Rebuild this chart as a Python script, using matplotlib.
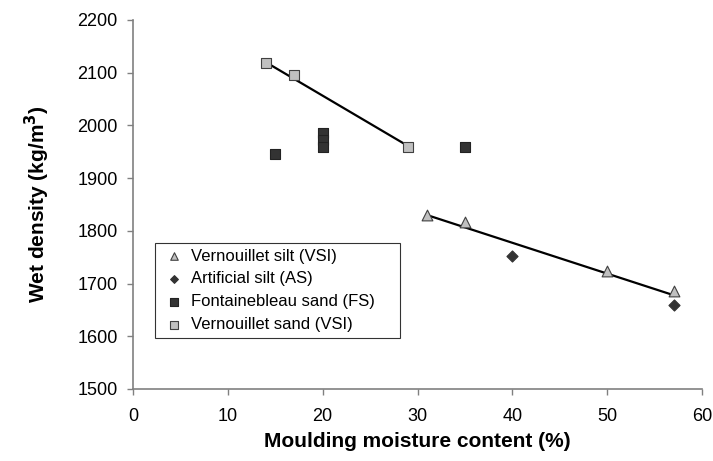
import numpy as np
import matplotlib
matplotlib.use('Agg')
import matplotlib.pyplot as plt

plt.rcParams['font.family'] = ['Liberation Sans', 'DejaVu Sans']

# ── Data ──
vsi_x = [31, 35, 50, 57]
vsi_y = [1830, 1817, 1724, 1686]
as_x = [40, 57]
as_y = [1753, 1660]
fs_x = [15, 20, 20, 20, 35]
fs_y = [1945, 1985, 1972, 1960, 1960]
vsa_x = [14, 17, 29]
vsa_y = [2118, 2095, 1960]

# trend lines (end points)
silt_line_x = [31, 57]
silt_line_y = [1830, 1678]
sand_line_x = [14, 29]
sand_line_y = [2120, 1961]

xticks = [0, 10, 20, 30, 40, 50, 60]
yticks = [1500, 1600, 1700, 1800, 1900, 2000, 2100, 2200]

fig = plt.figure(figsize=(7.13, 4.61), dpi=100)
ax = fig.add_axes([133 / 713, 1 - 389 / 461, 569 / 713, 369 / 461])

light = '#C0C0C0'
dark = '#333333'
edge = '#404040'

ax.plot(sand_line_x, sand_line_y, color='black', lw=1.6, zorder=2)
ax.plot(silt_line_x, silt_line_y, color='black', lw=1.6, zorder=2)

ax.scatter(vsi_x, vsi_y, marker='^', s=60, c=light, edgecolors=edge, linewidths=0.8,
           label='Vernouillet silt (VSI)', zorder=3)
ax.scatter(as_x, as_y, marker='D', s=32, c=dark, edgecolors=dark, linewidths=0.8,
           label='Artificial silt (AS)', zorder=3)
ax.scatter(fs_x, fs_y, marker='s', s=60, c=dark, edgecolors='#222222', linewidths=0.8,
           label='Fontainebleau sand (FS)', zorder=3)
ax.scatter(vsa_x, vsa_y, marker='s', s=60, c=light, edgecolors=edge, linewidths=0.8,
           label='Vernouillet sand (VSI)', zorder=3)

ax.set_xlim(0, 60)
ax.set_ylim(1500, 2200)
ax.set_xticks(xticks)
ax.set_yticks(yticks)
ax.spines['top'].set_visible(False)
ax.spines['right'].set_visible(False)
for s in ('left', 'bottom'):
    ax.spines[s].set_color('#808080')
    ax.spines[s].set_linewidth(1.2)
ax.tick_params(axis='both', direction='out', length=4.5, width=1.0, color='#808080',
               labelsize=13)
ax.tick_params(axis='x', pad=9)
ax.tick_params(axis='y', pad=6.5)

ax.set_xlabel('Moulding moisture content (%)', fontsize=15, fontweight='bold', labelpad=5)
ax.set_ylabel('Wet density (kg/m$^\\mathbf{3}$)', fontsize=15, fontweight='bold', labelpad=18)

leg = ax.legend(loc='lower left', bbox_to_anchor=(22 / 569, 51 / 369, 245 / 569, 0.25),
                mode='expand', fontsize=12, frameon=True, fancybox=False,
                handletextpad=0.2, handlelength=1.6, borderpad=0.35, labelspacing=0.47,
                markerscale=0.7, borderaxespad=0)
leg.get_frame().set_edgecolor('black')
leg.get_frame().set_linewidth(0.8)

plt.savefig('out.png', dpi=100)
